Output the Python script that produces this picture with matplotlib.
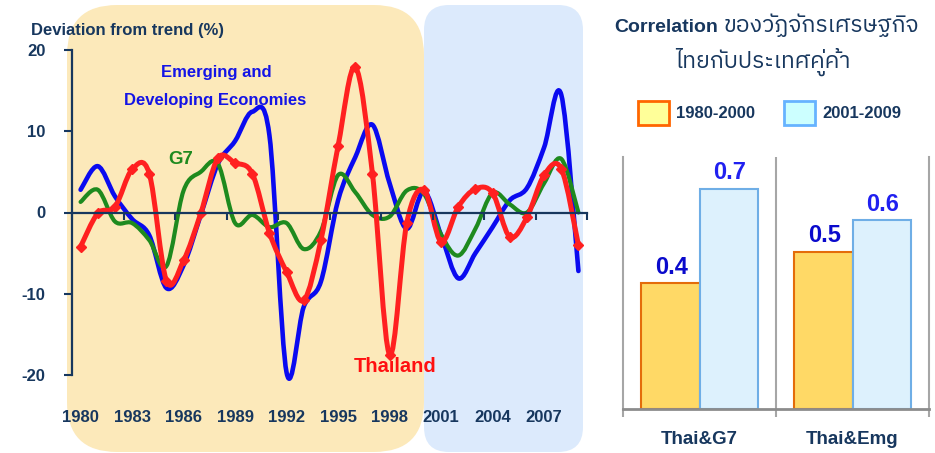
import numpy as np
import matplotlib
matplotlib.use("Agg")
import matplotlib.pyplot as plt
from matplotlib import font_manager as fm
from matplotlib.ft2font import FT2Font
from matplotlib.path import Path
from matplotlib.patches import PathPatch, FancyBboxPatch, Patch

# ==========================================
# Data
# ==========================================
years = list(range(1980, 2010))
thailand = [-4.2, -0.1, 0.7, 5.3, 4.8, -8.4, -5.9, -0.1, 6.7, 6.1,
            4.8, -2.5, -7.3, -10.8, -3.4, 8.2, 17.9, 4.8, -17.5, -1.3,
            2.8, -3.6, 0.7, 2.9, 2.4, -3.0, -0.6, 4.6, 5.4, -4.0]
emerging = [2.8, 5.7, 2.0, -0.8, -2.8, -9.3, -6.5, -0.3, 6.0, 8.8,
            12.4, 9.5, -19.7, -11.6, -8.5, 1.5, 6.8, 10.8, 3.6, -2.0,
            2.6, -2.8, -8.1, -5.0, -1.8, 1.5, 3.0, 8.0, 14.5, -7.2]
g7 = [1.3, 2.8, -1.1, -1.3, -3.4, -6.6, 2.7, 5.0, 6.0, -1.3,
      -0.3, -1.8, -1.3, -4.5, -2.3, 4.6, 2.5, -0.3, -0.5, 2.7,
      2.3, -2.7, -5.3, -2.0, 2.4, 1.0, 0.0, 3.6, 6.6, 0.0]
year_labels = ["1980", "1983", "1986", "1989", "1992",
               "1995", "1998", "2001", "2004", "2007"]
y_ticks = [-20, -10, 0, 10, 20]

pairs = ["Thai&G7", "Thai&Emg"]
periods = ["1980-2000", "2001-2009"]
corr_early = [0.4, 0.5]
corr_late = [0.7, 0.6]

NAVY = "#17375E"
W, H = 935, 453


def find_thai_font():
    # look for any installed font that has Thai glyphs
    names = []
    for f in fm.fontManager.ttflist:
        try:
            cmap = FT2Font(f.fname).get_charmap()
        except Exception:
            continue
        if 0x0E02 in cmap and 0x0E27 in cmap:
            names.append(f.name)
    names.sort(key=lambda n: (0 if "Sans" in n else 1, n))
    return names[0] if names else "DejaVu Sans"


THAI = find_thai_font()
plt.rcParams["font.family"] = ["Liberation Sans", THAI, "DejaVu Sans"]


def smooth_path(x, y):
    # Excel-like smoothed line: Catmull-Rom segments as cubic Bezier curves
    pts = np.column_stack([np.asarray(x, float), np.asarray(y, float)])
    n = len(pts)
    verts = [pts[0]]
    codes = [Path.MOVETO]
    for i in range(n - 1):
        p0 = pts[max(i - 1, 0)]
        p1, p2 = pts[i], pts[i + 1]
        p3 = pts[min(i + 2, n - 1)]
        verts += [p1 + (p2 - p0) / 6, p2 - (p3 - p1) / 6, p2]
        codes += [Path.CURVE4] * 3
    return Path(verts, codes)


fig = plt.figure(figsize=(W / 100, H / 100), dpi=100)

# background panels, in pixel units
bg = fig.add_axes([0, 0, 1, 1], zorder=0)
bg.set_xlim(0, W)
bg.set_ylim(H, 0)
bg.axis("off")
bg.add_patch(FancyBboxPatch((424, 5), 159, 447, boxstyle="round,pad=0,rounding_size=25",
                            fc="#DCEAFC", ec="none"))
bg.add_patch(FancyBboxPatch((67, 5), 357, 447, boxstyle="round,pad=0,rounding_size=50",
                            fc="#FCE9BA", ec="none"))

# ==========================================
# Left: deviation from trend
# ==========================================
ax = fig.add_axes([72 / W, 78 / H, 515 / W, 325 / H], zorder=1)
ax.patch.set_alpha(0)
ax.set_xlim(1979.5, 2009.5)
ax.set_ylim(-20, 20)

for vals, col, lw in [(emerging, "#0A0AF0", 3.3), (g7, "#1E8A1E", 3.0), (thailand, "#FF2020", 3.6)]:
    ax.add_patch(PathPatch(smooth_path(years, vals), fill=False, ec=col, lw=lw,
                           capstyle="round", joinstyle="round", clip_on=False))
ax.plot(years, thailand, ls="none", marker="D", ms=5.5, color="#FF2020", clip_on=False)

ax.spines["top"].set_visible(False)
ax.spines["right"].set_visible(False)
ax.spines["bottom"].set_position(("data", 0))
for s in ["left", "bottom"]:
    ax.spines[s].set_color(NAVY)
    ax.spines[s].set_linewidth(1.6)

ax.set_xticks(np.arange(1979.5, 2010, 3))
ax.set_xticklabels([])
ax.tick_params(axis="x", direction="out", length=5, width=1.5, color=NAVY)
ax.set_yticks(y_ticks)
ax.set_yticklabels([str(v) for v in y_ticks], fontsize=12, fontweight="bold", color=NAVY)
ax.tick_params(axis="y", direction="out", length=6, width=1.5, color=NAVY, pad=13)

for lab in year_labels:
    ax.text(int(lab), -0.132, lab, transform=ax.get_xaxis_transform(), ha="center", va="center",
            fontsize=12, fontweight="bold", color=NAVY)

bg.text(31, 30, "Deviation from trend (%)", ha="left", va="center", fontsize=12,
        fontweight="bold", color=NAVY)
bg.text(216, 72, "Emerging and", ha="center", va="center", fontsize=12,
        fontweight="bold", color="#1414E6")
bg.text(215, 101, "Developing Economies", ha="center", va="center", fontsize=12,
        fontweight="bold", color="#1414E6")
bg.text(181, 160, "G7", ha="center", va="center", fontsize=13.5, fontweight="bold", color="#1E8A1E")
bg.text(395, 366, "Thailand", ha="center", va="center", fontsize=14.5, fontweight="bold", color="#FF1010")

# ==========================================
# Right: correlation bars
# ==========================================
bg.text(718, 32, "Correlation", ha="right", va="baseline", fontsize=14, fontweight="bold", color=NAVY)
bg.text(724, 32, "ของวัฏจักรเศรษฐกิจ", ha="left", va="baseline", fontsize=16.5, color=NAVY,
        family=[THAI, "DejaVu Sans"])
bg.text(763, 68, "ไทยกับประเทศคู่ค้า", ha="center", va="baseline", fontsize=16.5, color=NAVY,
        family=[THAI, "DejaVu Sans"])

bx = fig.add_axes([623 / W, 44 / H, 306 / W, 252 / H], zorder=1)
bx.patch.set_alpha(0)
x = np.arange(len(pairs))
bw = 0.38
bx.bar(x - bw / 2, corr_early, bw, color="#FFD966", edgecolor="#E46C0A", lw=1.5, zorder=2)
bx.bar(x + bw / 2, corr_late, bw, color="#DDF1FD", edgecolor="#6FAEE6", lw=1.5, zorder=2)
for xi, v in zip(x, corr_early):
    bx.annotate(f"{v:.1f}", (xi - bw / 2, v), xytext=(1, 11.5), textcoords="offset points",
                ha="center", va="center", fontsize=17, fontweight="bold", color="#0A0ACC")
for xi, v in zip(x, corr_late):
    bx.annotate(f"{v:.1f}", (xi + bw / 2, v), xytext=(1, 11.5), textcoords="offset points",
                ha="center", va="center", fontsize=17, fontweight="bold", color="#2020F0")

bx.set_xlim(-0.5, 1.5)
bx.set_ylim(0, 0.8)
bx.set_yticks([])
bx.spines["top"].set_visible(False)
for s in ["left", "right"]:
    bx.spines[s].set_color("#A6A6A6")
    bx.spines[s].set_linewidth(1.5)
bx.spines["bottom"].set_color("#8C8C8C")
bx.spines["bottom"].set_linewidth(2)
bx.axvline(0.5, color="#A6A6A6", lw=1.5, zorder=1)
bx.set_xticks([-0.5, 0.5, 1.5], minor=True)
bx.tick_params(axis="x", which="minor", length=6, width=1.5, color="#A6A6A6")
bx.set_xticks(x)
bx.set_xticklabels(pairs, fontsize=13.5, fontweight="bold", color=NAVY)
bx.tick_params(axis="x", which="major", length=0, pad=16)

handles = [Patch(fc="#FFFF99", ec="#FF6600", lw=2, label=periods[0]),
           Patch(fc="#CCFFFF", ec="#66B3FF", lw=2, label=periods[1])]
leg = fig.legend(handles=handles, loc="center left", bbox_to_anchor=(638 / W, 1 - 113 / H), ncol=2,
                 frameon=False, handlelength=1.86, handleheight=1.8, handletextpad=0.42,
                 columnspacing=1.74, borderpad=0, borderaxespad=0,
                 prop={"size": 12, "weight": "bold"})
for t in leg.get_texts():
    t.set_color(NAVY)

fig.savefig("out.png", dpi=100)
